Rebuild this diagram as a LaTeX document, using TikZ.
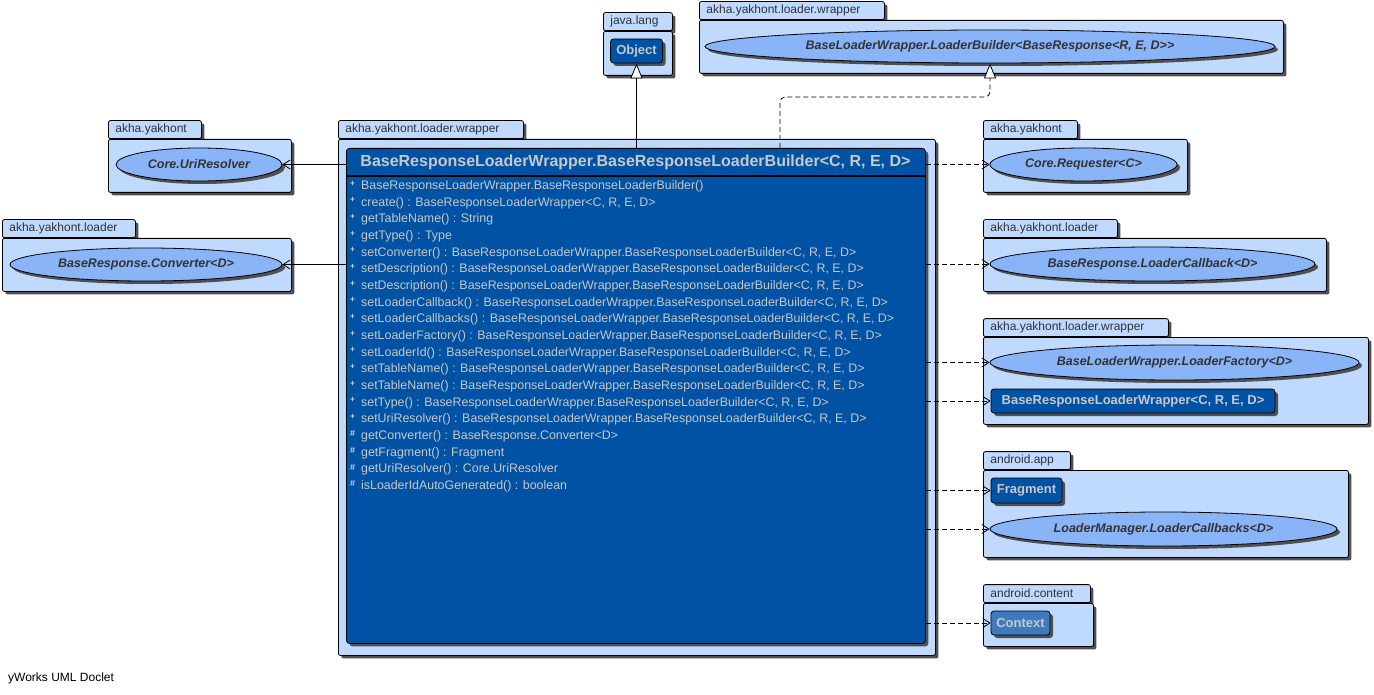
\documentclass[tikz,border=0pt]{standalone}
\usepackage{fontspec}
\setmainfont{Liberation Sans}
\usetikzlibrary{shapes.geometric,arrows.meta,shadows,calc}

\definecolor{pkgfill}{RGB}{191,217,255}
\definecolor{ifcfill}{RGB}{137,180,247}
\definecolor{clsfill}{RGB}{0,82,164}
\definecolor{clsfillb}{RGB}{62,122,190}
\definecolor{clstext}{RGB}{200,200,200}
\definecolor{pkgtext}{RGB}{51,51,51}
\definecolor{shade}{RGB}{80,80,80}

\newcommand{\gen}{<C, R, E, D>}
\newcommand{\bld}{BaseResponseLoaderWrapper.BaseResponseLoaderBuilder\gen}

\tikzset{
  umlshadow/.style = {drop shadow = {shadow xshift = 3pt, shadow yshift = -3pt, fill = shade, opacity = 1}},
  tab/.style = {draw, fill = pkgfill, rounded corners = 2pt, line width = 0.8pt, umlshadow,
    anchor = south west, inner xsep = 7pt, inner ysep = 0pt, minimum height = 18pt, align = left,
    text = pkgtext, font = \fontsize{12}{14}\selectfont},
  pkg/.style = {draw, fill = pkgfill, rounded corners = 2pt, line width = 0.8pt, umlshadow,
    anchor = north west, inner sep = 0pt},
  ifc/.style = {ellipse, draw, fill = ifcfill, line width = 0.8pt, umlshadow, inner sep = 0pt,
    text = pkgtext, font = \bfseries\itshape\fontsize{12.5}{14}\selectfont},
  cls/.style = {draw, fill = clsfill, rounded corners = 3pt, line width = 0.8pt, umlshadow,
    inner sep = 0pt, text = clstext, font = \bfseries\fontsize{13}{15}\selectfont},
  member/.style = {anchor = west, inner sep = 0pt, text height = 9pt, text depth = 2.5pt,
    text = clstext, font = \fontsize{12.4}{14}\selectfont},
  vis/.style = {inner sep = 0pt, text = white, font = \fontsize{9}{10}\selectfont},
  dep/.style = {line width = 0.8pt, dash pattern = on 5pt off 3pt,
    -{Straight Barb[length = 7pt, width = 9pt]}},
  assoc/.style = {line width = 0.8pt, -{Straight Barb[length = 7pt, width = 9pt]}},
  gen/.style = {line width = 0.8pt, -{Triangle[open, length = 15pt, width = 12pt, fill = white]}},
  real/.style = {line width = 0.8pt, dash pattern = on 5pt off 3pt, rounded corners = 5pt,
    -{Triangle[open, length = 15pt, width = 12pt, fill = white]}}
}

\begin{document}
\begin{tikzpicture}[x = 1pt, y = -1pt]
  \useasboundingbox (0, 0) rectangle (1374, 695);

  % packages
  \node[tab, text width = 55pt] (tjava) at (603, 31) {java.lang};
  \node[pkg, minimum width = 69pt, minimum height = 44pt] (pjava) at (603, 31) {};

  \node[tab, text width = 171pt] (twrapper) at (699, 20) {akha.yakhont.loader.wrapper};
  \node[pkg, minimum width = 584pt, minimum height = 53pt] (pwrapper) at (699, 20) {};

  \node[tab, text width = 79pt] (tcore) at (108, 139) {akha.yakhont};
  \node[pkg, minimum width = 183pt, minimum height = 53pt] (pcore) at (108, 139) {};

  \node[tab, text width = 119pt] (tloader) at (2, 238) {akha.yakhont.loader};
  \node[pkg, minimum width = 289pt, minimum height = 53pt] (ploader) at (2, 238) {};

  \node[tab, text width = 171pt] (tmain) at (338, 139) {akha.yakhont.loader.wrapper};
  \node[pkg, minimum width = 597pt, minimum height = 516pt] (pmain) at (338, 139) {};

  \node[tab, text width = 80pt] (tcorer) at (983, 139) {akha.yakhont};
  \node[pkg, minimum width = 204pt, minimum height = 53pt] (pcorer) at (983, 139) {};

  \node[tab, text width = 120pt] (tloaderr) at (983, 238) {akha.yakhont.loader};
  \node[pkg, minimum width = 343pt, minimum height = 53pt] (ploaderr) at (983, 238) {};

  \node[tab, text width = 171pt] (twrapperr) at (983, 337) {akha.yakhont.loader.wrapper};
  \node[pkg, minimum width = 385pt, minimum height = 87pt] (pwrapperr) at (983, 337) {};

  \node[tab, text width = 73pt] (tapp) at (983, 470) {android.app};
  \node[pkg, minimum width = 365pt, minimum height = 87pt] (papp) at (983, 470) {};

  \node[tab, text width = 93pt] (tcontent) at (983, 603) {android.content};
  \node[pkg, minimum width = 110pt, minimum height = 43pt] (pcontent) at (983, 603) {};

  % classes and interfaces
  \node[cls, minimum width = 52pt, minimum height = 24pt] (obj) at (636.5, 51) {Object};
  \node[ifc, minimum width = 570pt, minimum height = 33pt] (lb) at (990, 46.5)
    {BaseLoaderWrapper.LoaderBuilder<BaseResponse<R, E, D>{}>};
  \node[ifc, minimum width = 166pt, minimum height = 33pt] (uri) at (199, 164.5) {Core.UriResolver};
  \node[ifc, minimum width = 272pt, minimum height = 33pt] (conv) at (146, 264.5) {BaseResponse.Converter<D>};
  \node[ifc, minimum width = 187pt, minimum height = 33pt] (req) at (1083.5, 164.5) {Core.Requester<C>};
  \node[ifc, minimum width = 325pt, minimum height = 34pt] (lcb) at (1152.5, 264) {BaseResponse.LoaderCallback<D>};
  \node[ifc, minimum width = 369pt, minimum height = 35pt] (lf) at (1174.5, 362.5) {BaseLoaderWrapper.LoaderFactory<D>};
  \node[cls, minimum width = 284pt, minimum height = 24pt] (brlw) at (1133, 401) {BaseResponseLoaderWrapper\gen};
  \node[cls, minimum width = 71pt, minimum height = 25pt] (frag) at (1026.5, 490.5) {Fragment};
  \node[ifc, minimum width = 347pt, minimum height = 34pt] (lcbs) at (1163.5, 529) {LoaderManager.LoaderCallbacks<D>};
  \node[cls, fill = clsfillb, minimum width = 59pt, minimum height = 24pt] (ctx) at (1020.5, 623) {Context};

  % the builder class
  \node[cls, anchor = north west, minimum width = 579pt, minimum height = 495pt] (builder) at (346, 148) {};
  \node[text = clstext, inner sep = 0pt, font = \bfseries\fontsize{16}{19}\selectfont] (bhead) at (635.5, 162)
    {BaseResponseLoaderWrapper.BaseResponseLoaderBuilder\gen};
  \draw[line width = 2pt] ($(builder.north west) + (0, 28)$) -- ($(builder.north east) + (0, 28)$);

  \foreach \s/\t [count = \i] in {
      +/BaseResponseLoaderWrapper.BaseResponseLoaderBuilder(),
      +/create() : BaseResponseLoaderWrapper\gen,
      +/getTableName() : String,
      +/getType() : Type,
      +/setConverter() : \bld,
      +/setDescription() : \bld,
      +/setDescription() : \bld,
      +/setLoaderCallback() : \bld,
      +/setLoaderCallbacks() : \bld,
      +/setLoaderFactory() : \bld,
      +/setLoaderId() : \bld,
      +/setTableName() : \bld,
      +/setTableName() : \bld,
      +/setType() : \bld,
      +/setUriResolver() : \bld,
      \#/getConverter() : BaseResponse.Converter<D>,
      \#/getFragment() : Fragment,
      \#/getUriResolver() : Core.UriResolver,
      \#/isLoaderIdAutoGenerated() : boolean} {
    \node[member] (m\i) at (361, 169.5 + 16.67 * \i) {\t};
    \node[vis] (v\i) at (352.5, 167 + 16.67 * \i) {\s};
  }

  % connectors
  \draw[gen] (builder.north -| obj.south) -- (obj.south);
  \coordinate (lbbend) at (780, 97);
  \draw[real] (builder.north -| lbbend) -- (lbbend) -| (lb.south);

  \draw[assoc] (builder.west |- uri) -- (uri.east);
  \draw[assoc] (builder.west |- conv) -- (conv.east);

  \draw[dep] (builder.east |- req) -- (req.west);
  \draw[dep] (builder.east |- lcb) -- (lcb.west);
  \draw[dep] (builder.east |- lf) -- (lf.west);
  \draw[dep] (builder.east |- brlw) -- (brlw.west);
  \draw[dep] (builder.east |- frag) -- (frag.west);
  \draw[dep] (builder.east |- lcbs) -- (lcbs.west);
  \draw[dep] (builder.east |- ctx) -- (ctx.west);

  \node[anchor = west, inner sep = 0pt, font = \fontsize{12}{14}\selectfont] (credit) at (8, 678) {yWorks UML Doclet};
\end{tikzpicture}
\end{document}
